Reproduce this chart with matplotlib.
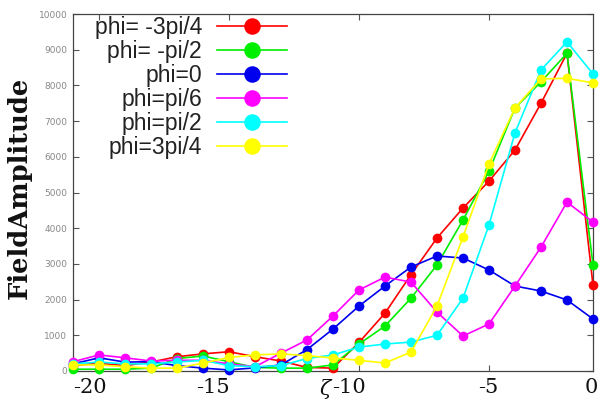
import numpy as np
import matplotlib
matplotlib.use("Agg")
import matplotlib.pyplot as plt
from matplotlib.ticker import FixedLocator, NullFormatter

# ---- data ----
zeta = np.arange(-21, 0)  # 21 sample points

labels = ["phi= -3pi/4", "phi= -pi/2", "phi=0", "phi=pi/6", "phi=pi/2", "phi=3pi/4"]
colors = ["#ff0000", "#00ee00", "#0000ee", "#ff00ff", "#00ffff", "#ffff00"]

amp_m3pi4 = [150, 220, 150, 250, 400, 480, 540, 400, 280, 100, 80,
             800, 1620, 2700, 3725, 4565, 5320, 6190, 7500, 8900, 2400]
amp_mpi2 = [50, 50, 50, 80, 350, 420, 260, 100, 80, 80, 170,
            756, 1260, 2040, 2970, 4230, 5600, 7370, 8100, 8900, 2970]
amp_0 = [200, 370, 250, 260, 150, 80, 30, 90, 170, 600, 1176,
         1820, 2380, 2913, 3221, 3165, 2829, 2380, 2240, 1989, 1457]
amp_pi6 = [260, 450, 370, 280, 300, 300, 200, 120, 500, 870, 1540,
           2270, 2630, 2490, 1650, 980, 1317, 2380, 3470, 4730, 4170]
amp_pi2 = [200, 250, 200, 200, 250, 300, 150, 120, 150, 350, 450,
           670, 756, 810, 1000, 2040, 4090, 6670, 8430, 9220, 8320]
amp_3pi4 = [170, 170, 120, 80, 80, 220, 380, 450, 480, 430, 364,
            300, 224, 530, 1820, 3750, 5800, 7370, 8180, 8200, 8070]
series = [amp_m3pi4, amp_mpi2, amp_0, amp_pi6, amp_pi2, amp_3pi4]

xtick_labels = ["-20", "-15", "-10", "-5", "0"]
xtick_label_pos = [-20.35, -15.6, -10.4, -5.04, -1.08]
xtick_marks = [-20, -15, -10, -5]
yticks = np.arange(0, 10001, 1000)

# ---- figure ----
fig = plt.figure(figsize=(6.03, 4.01), dpi=100)
ax = fig.add_axes([73/603, 30/401, 520/603, 357/401])

for y, lab, c in zip(series, labels, colors):
    ax.plot(zeta, y, color=c, lw=1.2, marker="o", markersize=7,
            markeredgewidth=0, label=lab, clip_on=False, zorder=3)

ax.set_xlim(-21, -1)
ax.set_ylim(0, 10000)

# x ticks: labels (no marks) + minor marks
ax.xaxis.set_major_locator(FixedLocator(xtick_label_pos))
ax.set_xticklabels(xtick_labels, fontfamily="DejaVu Serif", fontsize=15, color="#111111")
ax.tick_params(axis="x", which="major", length=0, pad=5)
ax.xaxis.set_minor_locator(FixedLocator(xtick_marks))
ax.xaxis.set_minor_formatter(NullFormatter())
ax.tick_params(axis="x", which="minor", direction="in", length=4, width=0.8,
               top=True, bottom=True, color="#555555")

ax.set_yticks(yticks)
ax.set_yticklabels([str(v) for v in yticks], fontfamily="DejaVu Sans",
                   fontsize=6.5, color="#888888")
ax.tick_params(axis="y", direction="in", length=4, width=0.8, left=True,
               right=True, pad=4, color="#555555")

for s in ax.spines.values():
    s.set_color("#444444")
    s.set_linewidth(0.9)

ax.set_ylabel("FieldAmplitude", fontfamily="DejaVu Serif", fontweight="bold",
              fontsize=18.5, color="#111111")
ax.yaxis.set_label_coords(-0.08, 0.513)
ax.text(-11.3, -0.05, "\u03b6", transform=ax.get_xaxis_transform(),
        fontfamily="DejaVu Serif", fontstyle="italic", fontsize=15,
        ha="center", va="center", color="#111111")

leg = ax.legend(loc="upper right", bbox_to_anchor=(0.442, 1.04), frameon=False,
                markerfirst=False, prop={"family": "Liberation Sans", "size": 16.5},
                handlelength=3.05, handletextpad=0.65, labelspacing=0.05,
                markerscale=1.7, borderpad=0.2)
for t in leg.get_texts():
    t.set_color("#222222")

fig.savefig("out.png", dpi=100)
